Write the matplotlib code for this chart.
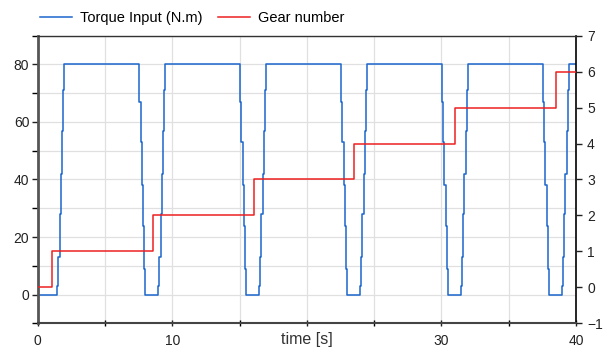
import matplotlib.pyplot as plt

plt.rcParams['font.family'] = ['Liberation Sans', 'DejaVu Sans']

# torque input: staircase ramps, one cycle per 7.5 s
rise_starts = [1.46, 8.96, 16.46, 23.96, 31.46, 38.96]
fall_starts = [7.56, 15.06, 22.56, 30.06, 37.56]
rise_levels = [3, 13, 28, 42, 57, 71, 80]
fall_levels = [67, 53, 38, 24, 9, 0]
step_dt = 0.085

# gear number steps
gear_times = [0, 1.08, 8.55, 16.05, 23.5, 31.0, 38.5, 40]
gear_values = [0, 1, 2, 3, 4, 5, 6, 6]

t_end = 40

# build torque step series from the read levels
t = [0.0]
y = [0.0]
for i, ts in enumerate(rise_starts):
    for k, lv in enumerate(rise_levels):
        t.append(ts + k * step_dt)
        y.append(lv)
    if i < len(fall_starts):
        tf = fall_starts[i]
        for k, lv in enumerate(fall_levels):
            t.append(tf + k * step_dt)
            y.append(lv)
t.append(t_end)
y.append(y[-1])

blue = '#1a66cc'
red = '#ee2020'

fig = plt.figure(figsize=(6.05, 3.53), dpi=100)
ax = fig.add_axes([0.0623, 0.0841, 0.8897, 0.8149])
ax2 = ax.twinx()

ax.step(t, y, where='post', color=blue, lw=1.1, label='Torque Input (N.m)')
ax2.step(gear_times, gear_values, where='post', color=red, lw=1.1, label='Gear number')

ax.set_xlim(0, 40)
ax.set_ylim(-10, 90)
ax2.set_ylim(-1, 7)

ax.set_yticks([0, 20, 40, 60, 80])
ax.set_yticks(range(-10, 91, 10), minor=True)
ax.set_xticks([0, 10, 20, 30, 40])
ax.set_xticklabels(['0', '10', '', '30', '40'])
ax.set_xticks(range(0, 41, 5), minor=True)
ax2.set_yticks(range(-1, 8))

ax.grid(True, which='both', color='#e0e0e0', lw=0.9)
ax.set_axisbelow(True)

for a in (ax, ax2):
    a.tick_params(labelsize=10, colors='#222222')
ax.tick_params(axis='y', which='both', length=4, width=1, direction='out', pad=2)
ax.tick_params(axis='x', which='both', length=4, width=1, direction='inout', pad=6)
ax2.tick_params(axis='y', length=4, width=1, direction='out', pad=4)

for name, sp in ax2.spines.items():
    sp.set_visible(False)
ax.spines['left'].set_color('#555555')
ax.spines['left'].set_linewidth(2)
ax.spines['bottom'].set_color('#444444')
ax.spines['bottom'].set_linewidth(1.5)
ax.spines['top'].set_color('#333333')
ax.spines['top'].set_linewidth(1)
ax.spines['right'].set_color('#000000')
ax.spines['right'].set_linewidth(1.2)

ax.set_xlabel('time [s]', fontsize=11.5, color='#333333', labelpad=-12)

h1, l1 = ax.get_legend_handles_labels()
h2, l2 = ax2.get_legend_handles_labels()
fig.legend(h1 + h2, l1 + l2, loc='upper left', bbox_to_anchor=(0.045, 1.005),
           ncol=2, frameon=False, fontsize=10.5, handlelength=2.2,
           columnspacing=1.1, handletextpad=0.5)

fig.savefig('out.png', dpi=100)
